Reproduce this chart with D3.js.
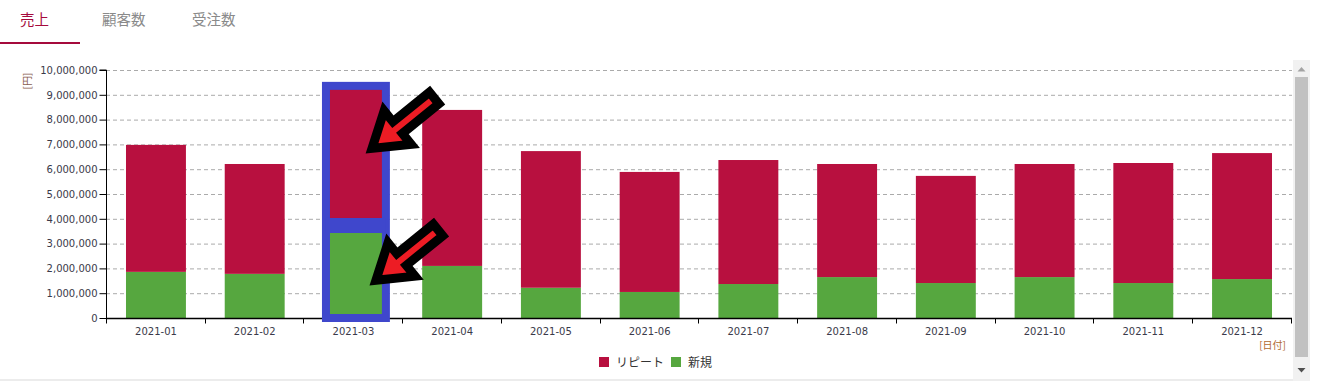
<!DOCTYPE html>
<html>
<head>
<meta charset="utf-8">
<script src="https://cdn.jsdelivr.net/npm/d3@7"></script>
<style>
  html, body { margin: 0; padding: 0; background: #fff; overflow: hidden; }
  svg { display: block; }
</style>
</head>
<body>
<svg id="chart" width="1318" height="381"></svg>
<script>
// ---- data ----
const tabs = ["売上", "顧客数", "受注数"];
const months = ["2021-01","2021-02","2021-03","2021-04","2021-05","2021-06",
                "2021-07","2021-08","2021-09","2021-10","2021-11","2021-12"];
const newSales    = [1860000, 1780000, 3730000, 2100000, 1220000, 1050000,
                     1370000, 1650000, 1410000, 1650000, 1410000, 1570000];
const repeatSales = [5120000, 4430000, 5570000, 6290000, 5510000, 4840000,
                     5000000, 4560000, 4320000, 4560000, 4840000, 5080000];
const yTicks = [0,1000000,2000000,3000000,4000000,5000000,6000000,7000000,8000000,9000000,10000000];
const seriesNames = ["リピート", "新規"];
const highlightMonth = "2021-03";
// arrow annotations: [month, value at arrow tip, fraction across bar]
const arrowTips = [["2021-03", 6840000, 0.81], ["2021-03", 1520000, 0.875]];

const colors = { "リピート": "#b8103f", "新規": "#56a73f" };

const svg = d3.select("#chart");
const font = "'DejaVu Sans', Verdana, sans-serif";
const cjk = "'Noto Sans CJK JP', 'Noto Sans', sans-serif";

// ---- tabs ----
const tabX = [20, 102, 192];
svg.selectAll("text.tab").data(tabs).join("text")
  .attr("class", "tab")
  .attr("x", (d, i) => tabX[i]).attr("y", 25)
  .attr("font-family", cjk).attr("font-size", 14.5)
  .attr("fill", (d, i) => i === 0 ? "#a50a3c" : "#8a8a8a")
  .text(d => d);
svg.append("rect").attr("x", 0).attr("y", 42).attr("width", 80).attr("height", 2).attr("fill", "#a50a3c");

// ---- scales ----
const pLeft = 106, pRight = 1292, pTop = 70, pBottom = 318;
const x = d3.scaleBand().domain(months).range([pLeft, pRight]).paddingInner(0.393).paddingOuter(0.2025);
const y = d3.scaleLinear().domain([0, 10000000]).range([pBottom, pTop]);

// gridlines
svg.append("g").selectAll("line").data(yTicks.filter(d => d > 0)).join("line")
  .attr("x1", pLeft).attr("x2", pRight)
  .attr("y1", d => y(d) + 0.5).attr("y2", d => y(d) + 0.5)
  .attr("stroke", "#aaaaaa").attr("stroke-width", 1).attr("stroke-dasharray", "4,3");

// stacked bars
const stackData = months.map((m, i) => ({ month: m, "新規": newSales[i], "リピート": repeatSales[i] }));
const stack = d3.stack().keys(["新規", "リピート"])(stackData);
svg.append("g").selectAll("g").data(stack).join("g")
  .attr("fill", d => colors[d.key])
  .selectAll("rect").data(d => d).join("rect")
  .attr("x", d => x(d.data.month))
  .attr("width", x.bandwidth())
  .attr("y", d => y(d[1]))
  .attr("height", d => y(d[0]) - y(d[1]));

// y axis
const yAxis = d3.axisLeft(y).tickValues(yTicks).tickSize(7).tickPadding(2)
  .tickFormat(d3.format(","));
const gy = svg.append("g").attr("transform", `translate(${pLeft + 0.5},0)`).call(yAxis);
gy.select(".domain").attr("stroke", "#000").attr("d", `M-7,${pTop}H0V${pBottom + 0.5}`);
gy.selectAll(".tick line").attr("stroke", "#000");
gy.selectAll("text").attr("font-family", font).attr("font-size", 10).attr("fill", "#3a3a4a");

// x axis
const xAxis = d3.axisBottom(x).tickSize(0).tickPadding(9);
const gx = svg.append("g").attr("transform", `translate(0,${pBottom + 0.5})`).call(xAxis);
gx.select(".domain").attr("stroke", "#000").attr("stroke-width", 1.5).attr("d", `M${pLeft},0H${pRight}`);
gx.selectAll("text").attr("font-family", font).attr("font-size", 10).attr("fill", "#3a3a4a");
const bounds = d3.range(months.length + 1).map(i => pLeft + i * x.step());
gx.selectAll("line.bt").data(bounds).join("line").attr("class", "bt")
  .attr("x1", d => Math.round(d) + 0.5).attr("x2", d => Math.round(d) + 0.5)
  .attr("y1", 0).attr("y2", 5).attr("stroke", "#000");

// axis unit labels
svg.append("text").attr("transform", `translate(31,81) rotate(-90)`)
  .attr("text-anchor", "middle")
  .attr("font-family", cjk).attr("font-size", 10).attr("fill", "#8a6050").text("[円]");
svg.append("text").attr("x", pRight - 6).attr("y", 349).attr("text-anchor", "end")
  .attr("font-family", cjk).attr("font-size", 10).attr("fill", "#b06a30").text("[日付]");

// ---- annotation: highlight frame ----
const hi = months.indexOf(highlightMonth);
const hTotal = newSales[hi] + repeatSales[hi];
const fx = x(highlightMonth) + 2.5;
svg.append("rect")
  .attr("x", fx).attr("y", y(hTotal) - 1.5)
  .attr("width", x.bandwidth()).attr("height", pBottom - y(hTotal) + 1.5)
  .attr("fill", "none").attr("stroke", "#3f47cc").attr("stroke-width", 8);
svg.append("rect")
  .attr("x", fx).attr("width", x.bandwidth())
  .attr("y", y(newSales[hi]) - 7.5).attr("height", 15)
  .attr("fill", "#3f47cc");

// arrows
const H = 33, W = 21.5, S = 7.5, L = 80;
const arrowShape = [[0,0],[H,-W],[H,-S],[L,-S],[L,S],[H,S],[H,W]];
arrowTips.forEach(([m, v, f]) => {
  const tx = x(m) + f * x.bandwidth(), ty = y(v);
  svg.append("polygon")
    .attr("points", arrowShape.map(p => p.join(",")).join(" "))
    .attr("transform", `translate(${tx},${ty}) rotate(-39)`)
    .attr("fill", "#ed1c24").attr("stroke", "#000").attr("stroke-width", 9)
    .attr("stroke-linejoin", "miter").attr("stroke-miterlimit", 10);
});

// ---- legend ----
const legX = [599, 671];
const lg = svg.append("g").selectAll("g").data(seriesNames).join("g")
  .attr("transform", (d, i) => `translate(${legX[i]},357)`);
lg.append("rect").attr("width", 10).attr("height", 10).attr("fill", d => colors[d]);
lg.append("text").attr("x", 17).attr("y", 9.5)
  .attr("font-family", cjk).attr("font-size", 12).attr("fill", "#333").text(d => d);

// bottom border
svg.append("rect").attr("x", 0).attr("y", 379).attr("width", 1293).attr("height", 2).attr("fill", "#ececec");

// ---- scrollbar ----
svg.append("rect").attr("x", 1293).attr("y", 60).attr("width", 17).attr("height", 321).attr("fill", "#f1f1f1");
svg.append("rect").attr("x", 1295).attr("y", 77).attr("width", 13).attr("height", 280).attr("fill", "#c1c1c1");
svg.append("path").attr("d", "M1297.5,71.5L1301.5,67L1305.5,71.5Z").attr("fill", "#a3a3a3");
svg.append("path").attr("d", "M1297.5,368L1301.5,372.5L1305.5,368Z").attr("fill", "#505050");
</script>
</body>
</html>
